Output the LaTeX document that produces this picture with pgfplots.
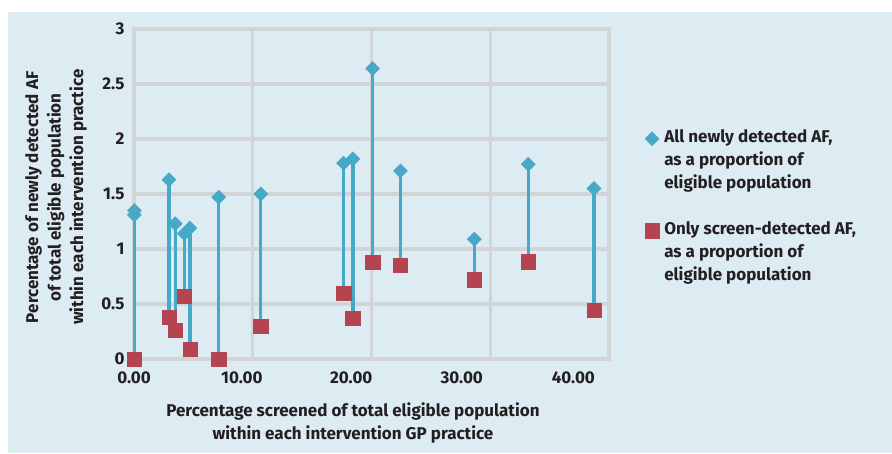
\documentclass[border=0pt]{standalone}
\usepackage{pgfplots}
\pgfplotsset{compat=1.18}
\usepackage{pgfplotstable}
\usepackage{fontspec}
\setmainfont{Fira Sans}
\definecolor{bgblue}{HTML}{DDEBF3}
\definecolor{gridgray}{HTML}{D2D4D6}
\definecolor{afblue}{HTML}{46A9C7}
\definecolor{afred}{HTML}{B4444F}
\definecolor{txt}{HTML}{231F20}
\newcommand{\lblfont}{\fontsize{17}{22.5}\selectfont\bfseries}

% x = % screened, all = all newly detected AF, scr = screen-detected AF only
\pgfplotstableread{
x      all    scr
0.03   1.35   0.00
0.03   1.31   0.00
2.94   1.63   0.38
3.47   1.23   0.26
4.23   1.14   0.57
4.71   1.19   0.09
7.14   1.47   0.00
10.67  1.50   0.30
17.65  1.78   0.60
18.43  1.82   0.37
20.10  2.64   0.88
22.44  1.71   0.855
28.66  1.09   0.72
33.20  1.77   0.885
38.74  1.55   0.445
}\afdata

\begin{document}
\begin{tikzpicture}[x=1pt,y=1pt]
\fill[white] (0,0) rectangle (892,453);
\fill[bgblue] (8,0) rectangle (892,441);
\begin{axis}[
    at={(134pt,94pt)}, anchor=south west,
    scale only axis,
    width=475pt, height=330pt,
    xmin=0, xmax=40, ymin=0, ymax=3,
    axis line style={draw=gridgray, line width=3.2pt},
    ymajorgrids,
    grid style={draw=gridgray, line width=3.2pt},
    tick style={draw=none},
    ticklabel style={font=\lblfont, text=txt},
    label style={font=\lblfont, text=txt},
    ytick={0,0.5,1,1.5,2,2.5,3},
    yticklabels={0,0.5,1,1.5,2,2.5,3},
    yticklabel style={xshift=-6pt},
    % tick labels sit a little left of the gridlines, as in the original
    xtick={0,9.08,18.3,27.6,37.0},
    xticklabels={0.00,10.00,20.00,30.00,40.00},
    xticklabel style={yshift=-9pt},
    extra x ticks={10,20,30},
    extra x tick labels={},
    extra x tick style={grid=major},
    xlabel={Percentage screened of total eligible population\\within each intervention GP practice},
    xlabel style={align=center, at={(axis description cs:0.461,-0.194)}, anchor=center},
    ylabel={Percentage of newly detected AF\\of total eligible population\\within each intervention practice},
    ylabel style={align=center, at={(axis description cs:-0.164,0.49)}, anchor=center},
    clip=false,
    legend style={at={(axis description cs:1.066,0.709)}, anchor=north west,
        draw=none, fill=none, row sep=0pt, column sep=5pt,
        font=\lblfont, text=txt,
        nodes={inner sep=0pt, text height=15pt, text depth=8pt}},
    legend cell align=left,
]
% stems between the two values
\addplot[forget plot, only marks, mark=none,
    error bars/.cd, y dir=minus, y explicit, error mark=none,
    error bar style={draw=afblue, line width=3.4pt}]
    table[x=x, y=all, y error expr=\thisrow{all}-\thisrow{scr}] {\afdata};
\addplot[only marks, mark=square*, mark size=7.2pt, color=afred,
    mark options={draw=afred, fill=afred}, forget plot]
    table[x=x, y=scr] {\afdata};
\addplot[only marks, mark=square*, mark size=5pt, color=afblue,
    mark options={draw=afblue, fill=afblue, rotate=45}]
    table[x=x, y=all] {\afdata};
\addlegendentry{All newly detected AF,}
\addlegendimage{empty legend}\addlegendentry{as a proportion of}
\addlegendimage{empty legend}\addlegendentry{eligible population}
\addlegendimage{empty legend}\addlegendentry{}
\addlegendimage{only marks, mark=square*, mark size=7.2pt, draw=afred, fill=afred}
\addlegendentry{Only screen-detected AF,}
\addlegendimage{empty legend}\addlegendentry{as a proportion of}
\addlegendimage{empty legend}\addlegendentry{eligible population}
\end{axis}
\end{tikzpicture}
\end{document}
